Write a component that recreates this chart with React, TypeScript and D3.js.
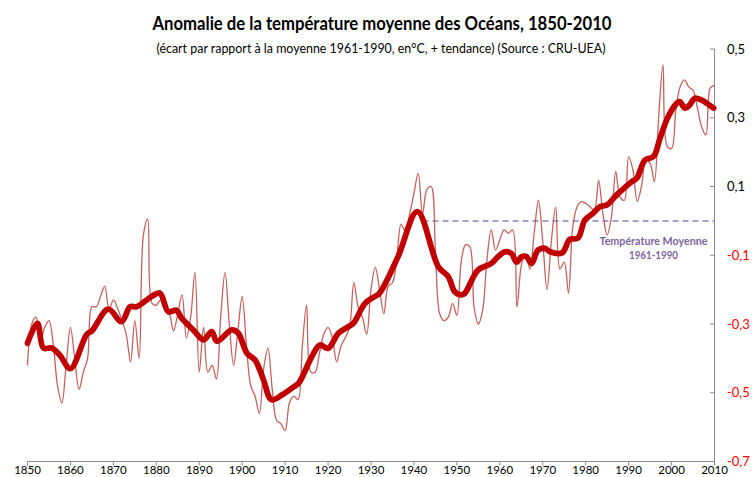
import React from "react";
import * as d3 from "d3";

const W = 752;
const H = 477;

const years: number[] = d3.range(1850, 2011);
const annual: number[] = [
  -0.42, -0.30, -0.28, -0.35, -0.31, -0.29, -0.36, -0.48, -0.53, -0.42,
  -0.31, -0.40, -0.49, -0.44, -0.40, -0.25, -0.25, -0.22, -0.19, -0.26,
  -0.23, -0.255, -0.29, -0.33, -0.41, -0.29, -0.40, -0.04, 0.005, -0.24,
  -0.245, -0.23, -0.26, -0.27, -0.32, -0.27, -0.215, -0.34, -0.28, -0.15,
  -0.44, -0.31, -0.44, -0.42, -0.46, -0.28, -0.15, -0.30, -0.42, -0.32,
  -0.22, -0.365, -0.48, -0.51, -0.56, -0.43, -0.37, -0.49, -0.58, -0.59,
  -0.61, -0.53, -0.51, -0.52, -0.365, -0.245, -0.44, -0.44, -0.385, -0.33,
  -0.31, -0.34, -0.41, -0.365, -0.34, -0.31, -0.18, -0.25, -0.28, -0.33,
  -0.20, -0.135, -0.20, -0.27, -0.19, -0.18, -0.11, -0.01, -0.03, 0.02,
  0.08, 0.138, 0.02, 0.09, 0.10, -0.085, -0.27, -0.29, -0.28, -0.24,
  -0.275, -0.12, -0.07, -0.075, -0.25, -0.30, -0.26, -0.114, -0.026, -0.085,
  -0.055, -0.026, -0.036, -0.026, -0.25, -0.13, -0.095, -0.14, -0.036, 0.06,
  -0.06, -0.20, -0.06, 0.04, -0.14, -0.12, -0.21, -0.017, 0.041, 0.056,
  0.051, 0.041, 0.031, 0.118, 0.022, -0.041, 0.012, 0.143, 0.07, 0.06,
  0.187, 0.148, 0.056, 0.10, 0.177, 0.167, 0.114, 0.303, 0.454, 0.216,
  0.211, 0.322, 0.39, 0.41, 0.39, 0.38, 0.33, 0.274, 0.25, 0.386,
  0.395,
];

const trendYears: number[] = [
  1850, 1852.3, 1853.7, 1855.6, 1857.5, 1860, 1863.8, 1865, 1868.8, 1871.9,
  1873.9, 1875.4, 1878.9, 1880.8, 1882.8, 1884.7, 1885.9, 1888.6, 1891, 1892.9,
  1894.1, 1897.6, 1899.1, 1901.1, 1903, 1904.9, 1906.8, 1909.2, 1911.5, 1913.1,
  1916.2, 1918.1, 1920, 1922.4, 1924.7, 1925.9, 1928.6, 1930.9, 1932, 1936.3,
  1940.8, 1945.7, 1948, 1949.5, 1951.1, 1951.9, 1954.9, 1958, 1959.6, 1961.2,
  1962.7, 1963.9, 1965.1, 1966.2, 1967.4, 1968.9, 1970.5, 1971.7, 1974.5, 1976.3,
  1978.2, 1979.8, 1981.7, 1983.3, 1984.9, 1986.8, 1987.6, 1990.7, 1991.9, 1993.8,
  1995.8, 1997.3, 1999.2, 2001.2, 2001.9, 2003.1, 2004.2, 2005.4, 2006.9, 2008.8,
  2009.8,
];
const trendValues: number[] = [
  -0.356, -0.298, -0.37, -0.37, -0.39, -0.43, -0.33, -0.32, -0.257, -0.293,
  -0.25, -0.25, -0.22, -0.21, -0.264, -0.26, -0.283, -0.317, -0.346, -0.322,
  -0.35, -0.317, -0.327, -0.385, -0.405, -0.46, -0.52, -0.507, -0.487, -0.473,
  -0.395, -0.361, -0.371, -0.327, -0.308, -0.298, -0.24, -0.22, -0.21, -0.104,
  0.027, -0.134, -0.162, -0.206, -0.215, -0.21, -0.143, -0.124, -0.104, -0.09,
  -0.095, -0.12, -0.104, -0.104, -0.124, -0.085, -0.08, -0.09, -0.093, -0.054,
  -0.05, 0.002, 0.022, 0.041, 0.046, 0.07, 0.08, 0.114, 0.124, 0.177,
  0.187, 0.24, 0.303, 0.342, 0.347, 0.328, 0.337, 0.357, 0.352, 0.337,
  0.328,
];

const xTicks: number[] = d3.range(1850, 2011, 10);
const yTicks: number[] = [-0.7, -0.5, -0.3, -0.1, 0.1, 0.3, 0.5];
const refStart = 1942;
const refEnd = 2010;
const refValue = 0;

const title = "Anomalie de la température moyenne des Océans, 1850-2010";
const subtitle = "(écart par rapport à la moyenne 1961-1990, en°C, + tendance) (Source : CRU-UEA)";
const refLabel1 = "Température Moyenne";
const refLabel2 = "1961-1990";

const FONT = "Lato, 'Open Sans', sans-serif";

export default function App() {
  const x = d3.scaleLinear().domain([1850, 2010]).range([27.5, 714.5]);
  const y = d3.scaleLinear().domain([-0.7, 0.5]).range([461.5, 49]);

  const thin = d3
    .line<number>()
    .x((_, i) => x(years[i]))
    .y((d) => y(d))
    .curve(d3.curveCatmullRom.alpha(0.5));
  const thick = d3
    .line<number>()
    .x((_, i) => x(trendYears[i]))
    .y((d) => y(d))
    .curve(d3.curveCatmullRom.alpha(0.5));

  const axisColor = "#8c8c8c";
  const fmt = (v: number) => v.toFixed(1).replace(".", ",");

  return (
    <svg
      width={W}
      height={H}
      style={{ position: "fixed", left: 0, top: 0, background: "#fff" }}
      fontFamily={FONT}
    >
      <rect x={0} y={0} width={W} height={H} fill="#fff" />
      <text x={382} y={30} textAnchor="middle" fontSize={18} fontWeight="bold" fill="#000"
        textLength={459} lengthAdjust="spacingAndGlyphs">
        {title}
      </text>
      <text x={381} y={52.5} textAnchor="middle" fontSize={14} fill="#000"
        textLength={449} lengthAdjust="spacingAndGlyphs">
        {subtitle}
      </text>

      {/* reference line */}
      <line
        x1={x(refStart)} x2={x(refEnd)} y1={y(refValue)} y2={y(refValue)}
        stroke="#8f80c0" strokeWidth={1.5} strokeDasharray="6,4"
      />
      <text x={653.5} y={245} textAnchor="middle" fontSize={11} fontWeight="bold" fill="#8064a2"
        textLength={108} lengthAdjust="spacingAndGlyphs">
        {refLabel1}
      </text>
      <text x={653.5} y={259} textAnchor="middle" fontSize={11} fontWeight="bold" fill="#8064a2"
        textLength={49} lengthAdjust="spacingAndGlyphs">
        {refLabel2}
      </text>

      {/* axes */}
      <line x1={x(1850)} x2={x(2010)} y1={y(-0.7)} y2={y(-0.7)} stroke={axisColor} strokeWidth={1} />
      {xTicks.map((t) => (
        <g key={t}>
          <line x1={x(t)} x2={x(t)} y1={y(-0.7)} y2={y(-0.7) + 4} stroke={axisColor} strokeWidth={1} />
          <text x={x(t)} y={474} textAnchor="middle" fontSize={11.5} fill="#000">
            {t}
          </text>
        </g>
      ))}
      <line x1={x(2010)} x2={x(2010)} y1={y(0.5)} y2={y(-0.7)} stroke={axisColor} strokeWidth={1} />
      {yTicks.map((t) => (
        <g key={t}>
          <line x1={x(2010) - 4.5} x2={x(2010)} y1={y(t)} y2={y(t)} stroke={axisColor} strokeWidth={1} />
          <text x={727} y={y(t)} dy="0.35em" fontSize={13} fill={t < 0 ? "#ff0000" : "#000"}>
            {fmt(t)}
          </text>
        </g>
      ))}

      {/* series */}
      <path d={thin(annual) || ""} fill="none" stroke="#c0504d" strokeWidth={1.3} strokeOpacity={0.9} />
      <path d={thick(trendValues) || ""} fill="none" stroke="#c00000" strokeWidth={5.8}
        strokeLinejoin="round" strokeLinecap="round" />
    </svg>
  );
}
